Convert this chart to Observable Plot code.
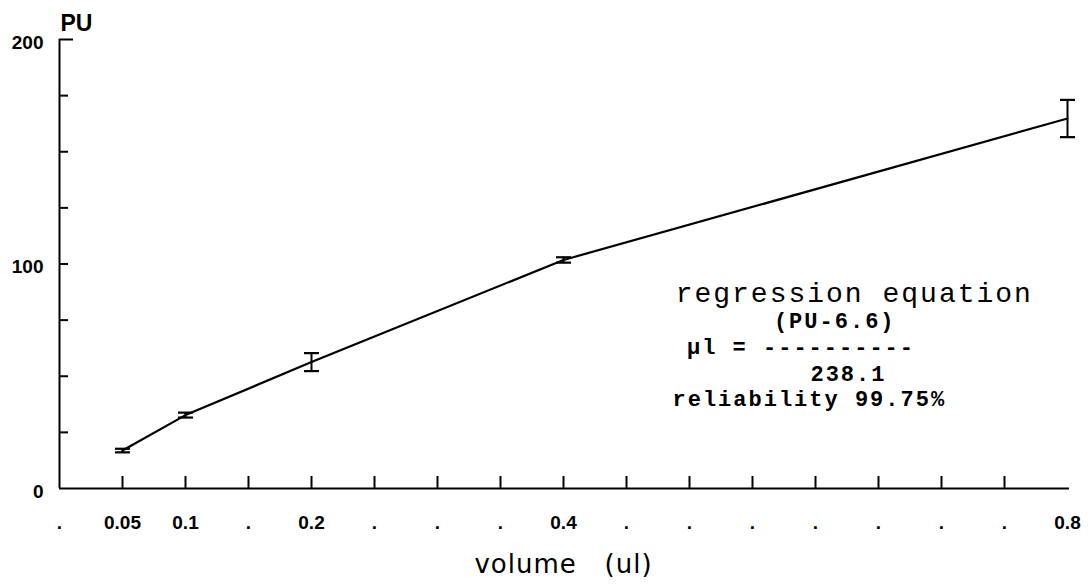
<!DOCTYPE html>
<html><head><meta charset="utf-8">
<script src="https://cdn.jsdelivr.net/npm/d3@7"></script>
<script src="https://cdn.jsdelivr.net/npm/@observablehq/plot@0.6"></script>
<style>body{margin:0;background:#fff} svg{display:block}</style>
</head><body><div id="chart"></div>
<script>
// data
const volume = [0.05, 0.1, 0.2, 0.4, 0.8];
const pu = [16.9, 32.7, 56.3, 101.8, 164.8];
const puErr = [0.8, 1.1, 4.0, 1.2, 8.3];

// axis ticks / labels
const xTickLabelValues = [0, 0.05, 0.1, 0.15, 0.2, 0.25, 0.3, 0.35, 0.4, 0.45, 0.5, 0.55, 0.6, 0.65, 0.7, 0.75, 0.8];
const xTickLabels = [".", "0.05", "0.1", ".", "0.2", ".", ".", ".", "0.4", ".", ".", ".", ".", ".", ".", ".", "0.8"];
const xTickMarks = [0.05, 0.1, 0.15, 0.2, 0.25, 0.3, 0.35, 0.4, 0.45, 0.5, 0.55, 0.6, 0.65, 0.7, 0.75];
const yTickMarks = [25, 50, 75, 100, 125, 150, 175];
const yTopTick = [200];
const yLabelValues = [0, 100, 200];
const yLabels = ["0", "100", "200"];

// annotation text (anchored in data units)
const annoLines = ["(PU-6.6)", "\u03bcl = ----------", "238.1", "reliability 99.75%"];
const annoX = [0.567, 0.498, 0.596, 0.4865];
const annoY = [74.8, 63.0, 51.2, 40.1];
const titleText = ["regression equation"];
const titleX = [0.489];
const titleY = [87.0];

const pts = volume.map((v, i) => ({v, pu: pu[i], lo: pu[i] - puErr[i], hi: pu[i] + puErr[i]}));
const xLab = xTickLabelValues.map((v, i) => ({v, label: xTickLabels[i]}));
const yLab = yLabelValues.map((v, i) => ({v, label: yLabels[i]}));
const anno = annoLines.map((t, i) => ({t, x: annoX[i], y: annoY[i]}));
const title = titleText.map((t, i) => ({t, x: titleX[i], y: titleY[i]}));

const capSymbol = { draw(context, size) { const r = Math.sqrt(size / Math.PI); context.moveTo(-r, 0); context.lineTo(r, 0); } };

const sans = "'Liberation Sans', Arial, sans-serif";
const mono = "'Liberation Mono', 'Courier New', monospace";
const xAxisTitle = "volume\u00a0\u00a0\u00a0(ul)";

const plot = Plot.plot({
  width: 1091,
  height: 585,
  marginLeft: 59,
  marginRight: 24,
  marginTop: 39,
  marginBottom: 97,
  style: {background: "#fff", color: "#000", fontFamily: sans},
  x: {domain: [0, 0.8]},
  y: {domain: [0, 200]},
  marks: [
    // axis lines
    Plot.ruleY([0], {stroke: "#000", strokeWidth: 2, insetRight: -2}),
    Plot.ruleX([0], {stroke: "#000", strokeWidth: 2}),
    // tick marks (inward)
    Plot.axisX(xTickMarks, {tickSize: -12, tickFormat: () => "", strokeWidth: 2, label: null}),
    Plot.axisY(yTickMarks, {tickSize: -9, tickFormat: () => "", strokeWidth: 2, label: null}),
    Plot.axisY(yTopTick, {tickSize: -14, tickFormat: () => "", strokeWidth: 2, label: null}),
    // tick labels
    Plot.text(xLab, {x: "v", text: "label", frameAnchor: "bottom", dy: 34, lineAnchor: "middle", fontSize: 19, fontWeight: "bold", fill: "#000"}),
    Plot.text(yLab, {y: "v", text: "label", frameAnchor: "left", dx: -16, dy: 3, textAnchor: "end", lineAnchor: "middle", fontSize: 19, fontWeight: "bold", fill: "#000"}),
    Plot.text(["PU"], {y: yTopTick[0], text: d => d, frameAnchor: "left", dx: 1, dy: -16, textAnchor: "start", lineAnchor: "middle", fontSize: 23, fontWeight: "bold", fill: "#000"}),
    Plot.text([xAxisTitle], {x: 0.4, text: d => d, frameAnchor: "bottom", dy: 76, lineAnchor: "middle", fontSize: 26, fontFamily: "'DejaVu Sans', sans-serif", fill: "#000"}),
    // series
    Plot.line(pts, {x: "v", y: "pu", stroke: "#000", strokeWidth: 2.2}),
    Plot.ruleX(pts, {x: "v", y1: "lo", y2: "hi", stroke: "#000", strokeWidth: 2}),
    Plot.dot(pts, {x: "v", y: "lo", symbol: capSymbol, r: 7.5, stroke: "#000", strokeWidth: 2.2}),
    Plot.dot(pts, {x: "v", y: "hi", symbol: capSymbol, r: 7.5, stroke: "#000", strokeWidth: 2.2}),
    // annotations
    Plot.text(title, {x: "x", y: "y", text: "t", textAnchor: "start", lineAnchor: "middle", fontSize: 28, fontFamily: mono, fill: "#000"}),
    Plot.text(anno, {x: "x", y: "y", text: "t", textAnchor: "start", lineAnchor: "middle", fontSize: 22, fontWeight: "bold", fontFamily: mono, fill: "#000"})
  ]
});

d3.select(plot).selectAll("text").each(function () {
  const t = this.textContent;
  if (titleText.includes(t)) this.setAttribute("letter-spacing", "2");
  else if (annoLines.includes(t)) this.setAttribute("letter-spacing", "2");
  else if (t === xAxisTitle) this.setAttribute("letter-spacing", "1");
});
document.getElementById("chart").appendChild(plot);
</script>
</body></html>
